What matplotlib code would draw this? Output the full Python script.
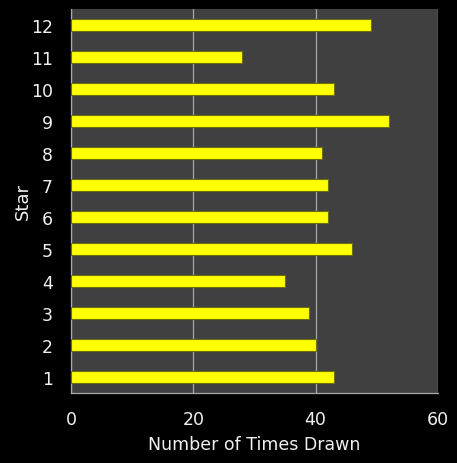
import matplotlib
matplotlib.use('Agg')
import matplotlib.pyplot as plt

# Stars 1..12 and how often each was drawn
stars = ['1', '2', '3', '4', '5', '6', '7', '8', '9', '10', '11', '12']
times_drawn = [43, 40, 39, 35, 46, 42, 42, 41, 52, 43, 28, 49]
x_ticks = [0, 20, 40, 60]

fig = plt.figure(figsize=(4.57, 4.64), dpi=100, facecolor='black')
ax = fig.add_axes([0.1554, 0.1509, 0.8026, 0.8276])
ax.set_facecolor('#404040')

pos = list(range(1, len(stars) + 1))
ax.barh(pos, times_drawn, height=0.4, color='#ffff00',
        edgecolor='#6e6e10', linewidth=0.8, zorder=3)

ax.set_xlim(0, 60)
ax.set_ylim(0.5, 12.5)
ax.set_xticks(x_ticks)
ax.set_yticks(pos)
ax.set_yticklabels(stars)

ax.grid(axis='x', color='#a8a8a8', linewidth=0.9, zorder=1)
ax.tick_params(axis='both', length=0, colors='#f0f0f0', labelsize=12.5)
ax.tick_params(axis='x', pad=12)
ax.tick_params(axis='y', pad=13)

for side in ['top', 'right']:
    ax.spines[side].set_visible(False)
for side in ['left', 'bottom']:
    ax.spines[side].set_color('#a8a8a8')
    ax.spines[side].set_linewidth(0.9)

ax.set_xlabel('Number of Times Drawn', color='#f0f0f0', fontsize=12.5, labelpad=5)
ax.set_ylabel('Star', color='#f0f0f0', fontsize=13)
ax.yaxis.set_label_coords(-0.108, 0.5)

fig.savefig('out.png', dpi=100, facecolor='black')
